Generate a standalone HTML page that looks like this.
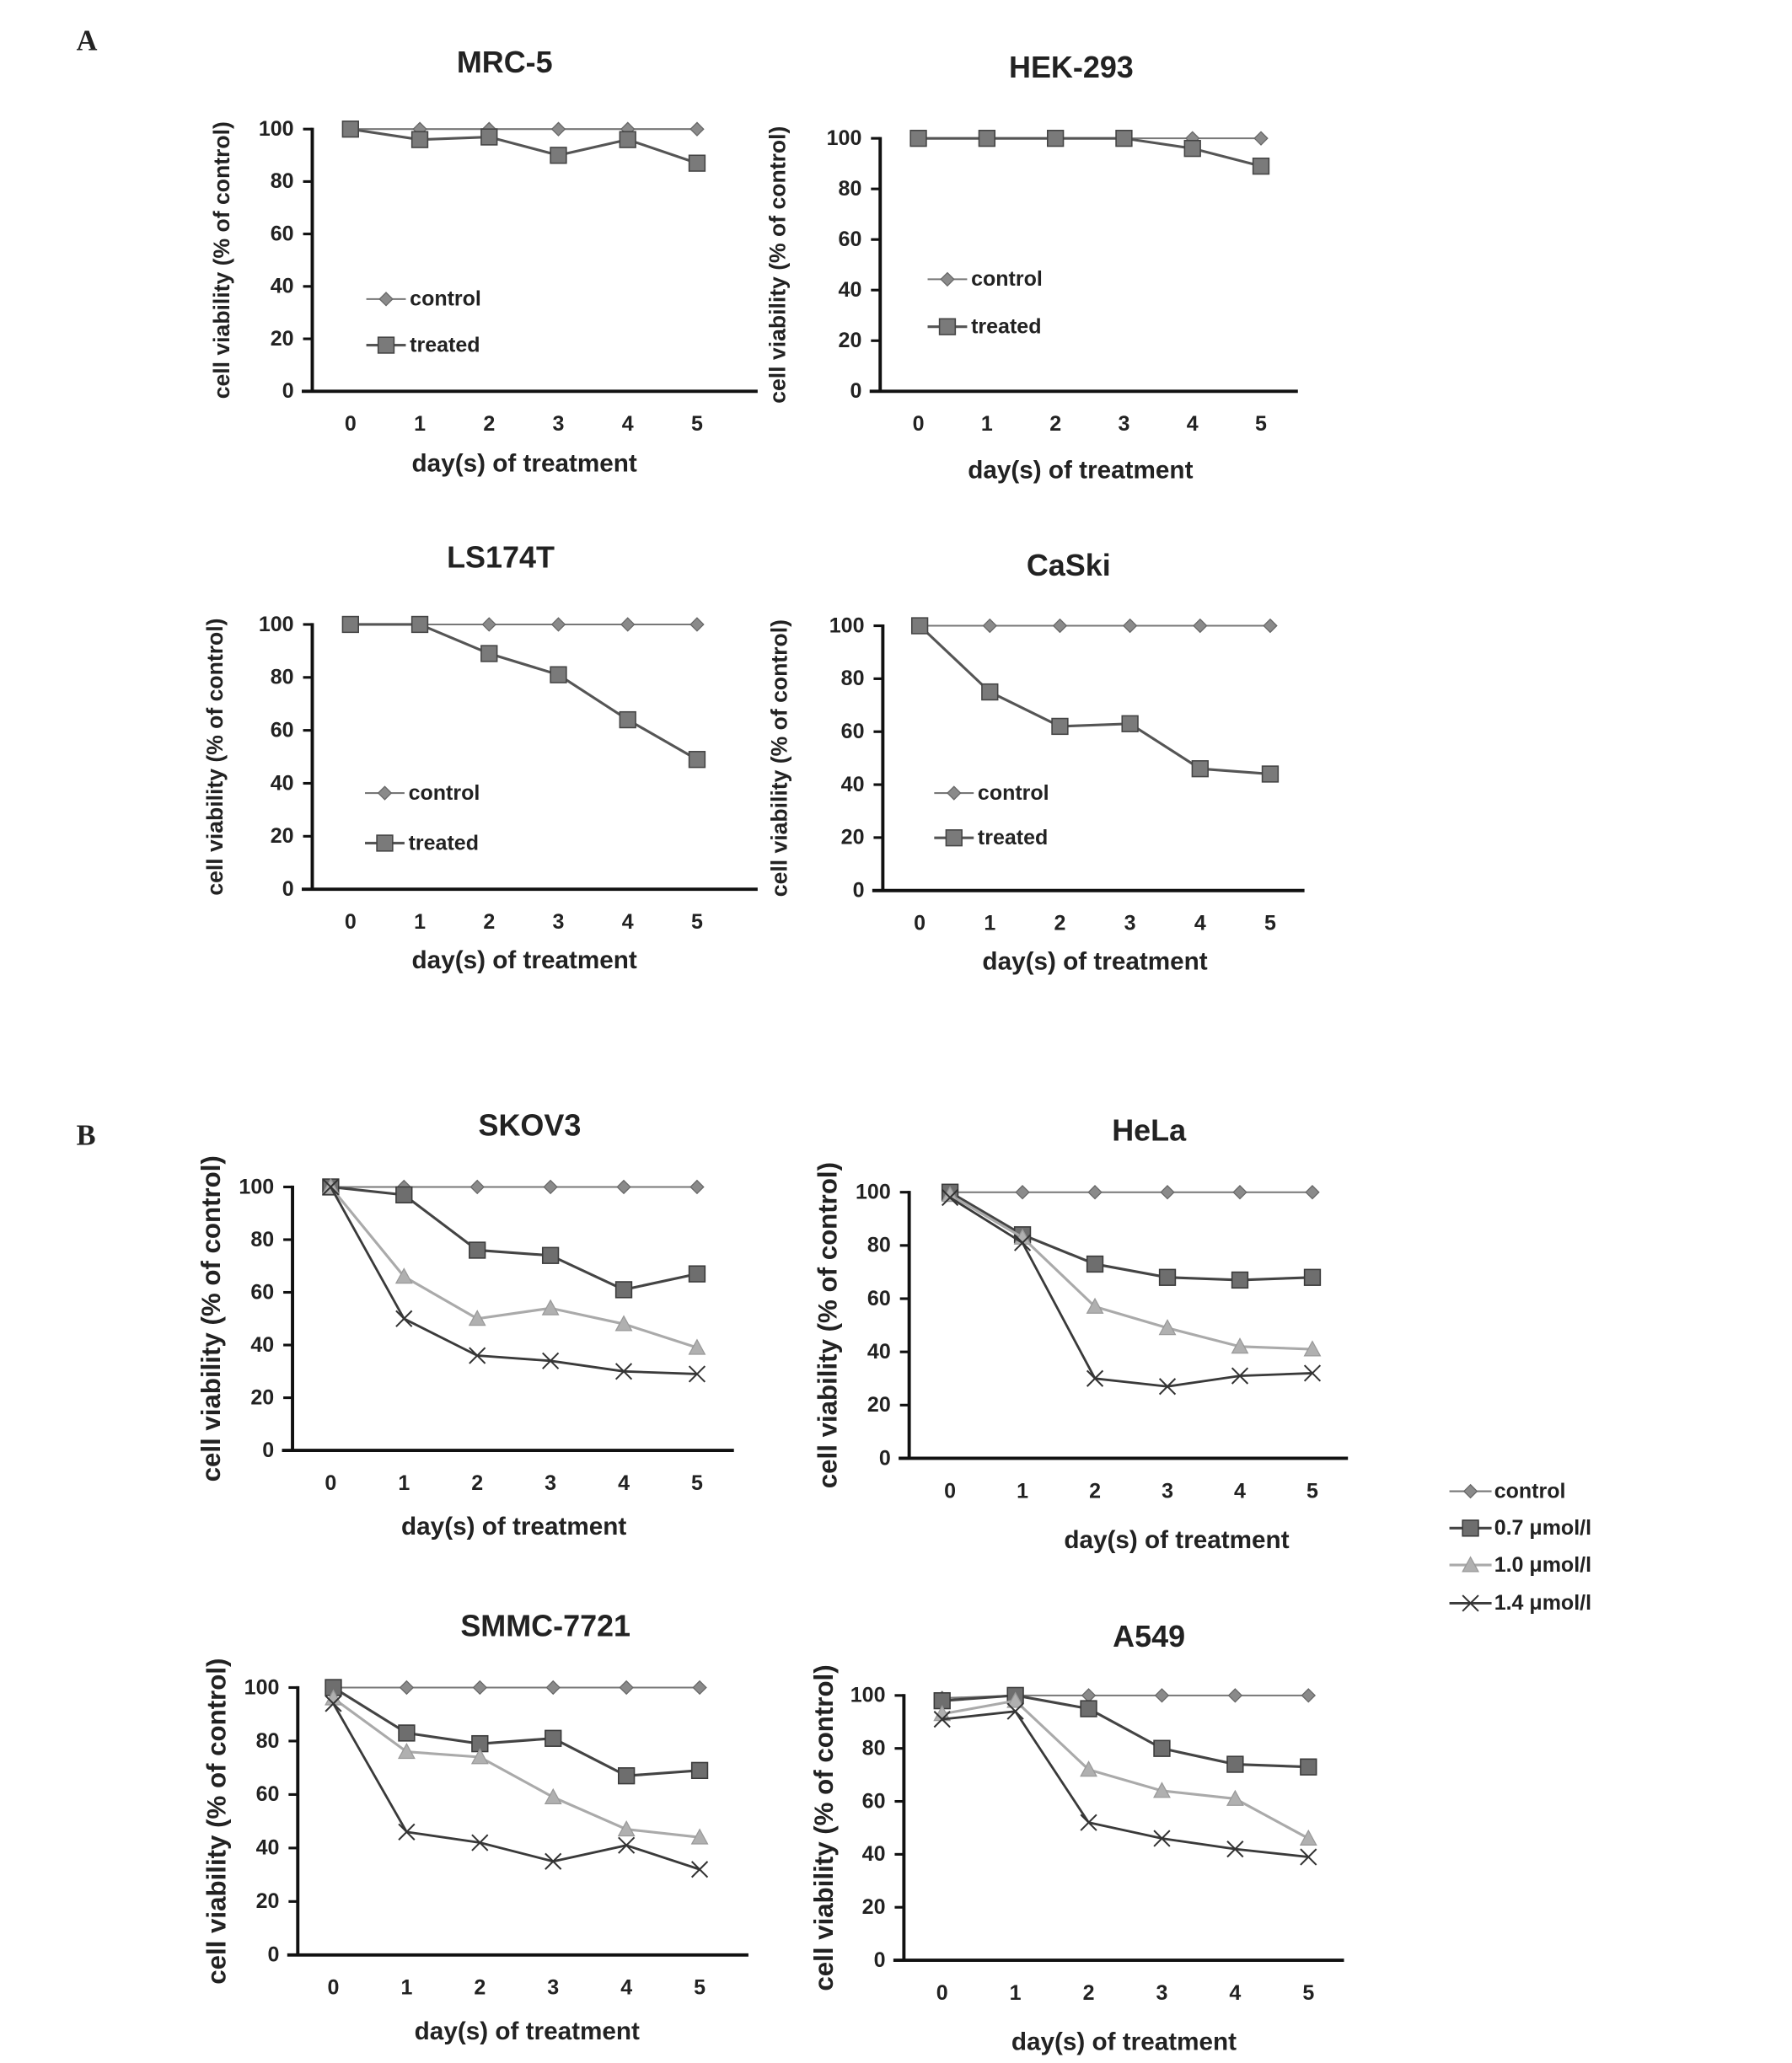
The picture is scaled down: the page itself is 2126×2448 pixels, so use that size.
<!DOCTYPE html>
<html><head><meta charset="utf-8"><style>
html,body{margin:0;padding:0;background:#fff}
svg{display:block}
text{font-family:"Liberation Sans","DejaVu Sans",sans-serif;fill:#222}
</style></head><body>
<svg id="fig" width="2126" height="2448" viewBox="0 0 1360 1566" preserveAspectRatio="none" xmlns="http://www.w3.org/2000/svg">
<text x="58" y="38" style="font-family:'Liberation Serif',serif" font-size="22" font-weight="bold">A</text>
<text x="58" y="869" style="font-family:'Liberation Serif',serif" font-size="22" font-weight="bold">B</text>
</svg>
<script>
const days=[0,1,2,3,4,5];
const yTicks=[0,20,40,60,80,100];
const mrcControl=[100,100,100,100,100,100];
const mrcTreated=[100,96,97,90,96,87];
const hekControl=[100,100,100,100,100,100];
const hekTreated=[100,100,100,100,96,89];
const lsControl=[100,100,100,100,100,100];
const lsTreated=[100,100,89,81,64,49];
const caskiControl=[100,100,100,100,100,100];
const caskiTreated=[100,75,62,63,46,44];
const skovControl=[100,100,100,100,100,100];
const skov07=[100,97,76,74,61,67];
const skov10=[100,66,50,54,48,39];
const skov14=[100,50,36,34,30,29];
const helaControl=[100,100,100,100,100,100];
const hela07=[100,84,73,68,67,68];
const hela10=[99,83,57,49,42,41];
const hela14=[98,81,30,27,31,32];
const smmcControl=[100,100,100,100,100,100];
const smmc07=[100,83,79,81,67,69];
const smmc10=[96,76,74,59,47,44];
const smmc14=[94,46,42,35,41,32];
const a549Control=[99,100,100,100,100,100];
const a54907=[98,100,95,80,74,73];
const a54910=[93,98,72,64,61,46];
const a54914=[91,94,52,46,42,39];

const NS="http://www.w3.org/2000/svg";
const svg=document.getElementById('fig');
function mk(tag,attrs,parent){const e=document.createElementNS(NS,tag);for(const k in attrs)e.setAttribute(k,attrs[k]);(parent||svg).appendChild(e);return e;}
function txt(x,y,s,size,parent,extra){const t=mk('text',Object.assign({x:x,y:y,'font-size':size,'font-weight':'bold','text-anchor':'middle'},extra||{}),parent);t.textContent=s;return t;}

const styles={
 control:{line:'#777',w:1.3,marker:'diamond',fill:'#8a8a8a',stroke:'#666'},
 treated:{line:'#555',w:2,marker:'square',fill:'#7a7a7a',stroke:'#444'},
 c07:{line:'#444',w:2,marker:'square',fill:'#6e6e6e',stroke:'#3a3a3a'},
 c10:{line:'#aaa',w:2,marker:'triangle',fill:'#b0b0b0',stroke:'#999'},
 c14:{line:'#3a3a3a',w:1.8,marker:'x',fill:'none',stroke:'#333'}
};
function marker(g,type,x,y,st){
 if(type==='diamond')return mk('polygon',{points:`${x},${y-5} ${x+5},${y} ${x},${y+5} ${x-5},${y}`,fill:st.fill,stroke:st.stroke,'stroke-width':0.8},g);
 if(type==='square')return mk('rect',{x:x-6,y:y-6,width:12,height:12,fill:st.fill,stroke:st.stroke,'stroke-width':1},g);
 if(type==='triangle')return mk('polygon',{points:`${x},${y-6} ${x+6},${y+5} ${x-6},${y+5}`,fill:st.fill,stroke:st.stroke,'stroke-width':0.8},g);
 const p=mk('path',{d:`M${x-6},${y-6}L${x+6},${y+6}M${x+6},${y-6}L${x-6},${y+6}`,stroke:st.stroke,'stroke-width':1.3,fill:'none'},g);return p;
}
function panel(c){
 const g=mk('g',{});
 
 
 const xs=d=>c.x0+(c.x5-c.x0)*d/5;
 const ys=v=>c.y0-(c.y0-c.y100)*v/100;
 const t=txt(c.tx,c.ty,c.title,23,g);
 
 
 mk('line',{x1:c.ax,y1:c.y100-1,x2:c.ax,y2:c.y0+1,stroke:'#111','stroke-width':2.5},g);
 mk('line',{x1:c.ax-8,y1:c.y0,x2:c.right,y2:c.y0,stroke:'#111','stroke-width':2.5},g);
 yTicks.forEach(v=>{
  mk('line',{x1:c.ax-7,y1:ys(v),x2:c.ax,y2:ys(v),stroke:'#111','stroke-width':2},g);
  const tl=txt(c.ax-14,ys(v)+5,String(v),16,g,{'text-anchor':'end'});
  
  
 });
 days.forEach(d=>{
  const tl=txt(xs(d),c.y0+30,String(d),16,g);
  
  
 });
 const xl=txt(c.xlx,c.xly,'day(s) of treatment',19,g);
 
 
 const yl=txt(0,0,'cell viability (% of control)',c.ylSize||17,g,{transform:`translate(${c.ylx},${(c.y0+c.y100)/2}) rotate(-90)`});
 
 
 c.series.forEach(s=>{
  const st=styles[s.style];
  const pl=mk('polyline',{points:s.data.map((v,i)=>xs(days[i])+','+ys(v)).join(' '),fill:'none',stroke:st.line,'stroke-width':st.w},g);
  
  
  s.data.forEach((v,i)=>{
   const m=marker(g,st.marker,xs(days[i]),ys(v),st);
   
   
  });
 });
 if(c.legend){
  c.legend.items.forEach((it,i)=>{
   const st=styles[it.style];const y=c.legend.ys[i];
   const lg=mk('g',{},g);
   
   
   mk('line',{x1:c.legend.x1,y1:y,x2:c.legend.x2,y2:y,stroke:st.line,'stroke-width':st.w},lg);
   marker(lg,st.marker,(c.legend.x1+c.legend.x2)/2,y,st);
   txt(c.legend.x2+3,y+5,it.label,16,lg,{'text-anchor':'start'});
  });
 }
}
const twoSer=(a,b)=>[{style:'control',data:a},{style:'treated',data:b}];
const fourSer=(a,b,c,d)=>[{style:'control',data:a},{style:'c07',data:b},{style:'c10',data:c},{style:'c14',data:d}];
const legA=[{style:'control',label:'control'},{style:'treated',label:'treated'}];
panel({name:'mrc-5',title:'MRC-5',tx:383,ty:55,ax:237,y100:98,y0:297,right:575,x0:266,x5:529,xlx:398,xly:358,ylx:174,series:twoSer(mrcControl,mrcTreated),legend:{x1:278,x2:308,ys:[227,262],items:legA}});
panel({name:'hek-293',title:'HEK-293',tx:813,ty:59,ax:668,y100:105,y0:297,right:985,x0:697,x5:957,xlx:820,xly:363,ylx:596,series:twoSer(hekControl,hekTreated),legend:{x1:704,x2:734,ys:[212,248],items:legA}});
panel({name:'ls174t',title:'LS174T',tx:380,ty:431,ax:237,y100:474,y0:675,right:575,x0:266,x5:529,xlx:398,xly:735,ylx:169,series:twoSer(lsControl,lsTreated),legend:{x1:277,x2:307,ys:[602,640],items:legA}});
panel({name:'caski',title:'CaSki',tx:811,ty:437,ax:670,y100:475,y0:676,right:990,x0:698,x5:964,xlx:831,xly:736,ylx:597,series:twoSer(caskiControl,caskiTreated),legend:{x1:709,x2:739,ys:[602,636],items:legA}});
panel({name:'skov3',title:'SKOV3',tx:402,ty:862,ax:222,y100:901,y0:1101,right:557,x0:251,x5:529,xlx:390,xly:1165,ylx:167,ylSize:20,series:fourSer(skovControl,skov07,skov10,skov14)});
panel({name:'hela',title:'HeLa',tx:872,ty:866,ax:690,y100:905,y0:1107,right:1023,x0:721,x5:996,xlx:893,xly:1175,ylx:635,ylSize:20,series:fourSer(helaControl,hela07,hela10,hela14)});
panel({name:'smmc-7721',title:'SMMC-7721',tx:414,ty:1242,ax:226,y100:1281,y0:1484,right:568,x0:253,x5:531,xlx:400,xly:1548,ylx:171,ylSize:20,series:fourSer(smmcControl,smmc07,smmc10,smmc14)});
panel({name:'a549',title:'A549',tx:872,ty:1250,ax:686,y100:1287,y0:1488,right:1020,x0:715,x5:993,xlx:853,xly:1556,ylx:632,ylSize:20,series:fourSer(a549Control,a54907,a54910,a54914)});
const legB=[{style:'control',label:'control'},{style:'c07',label:'0.7 μmol/l'},{style:'c10',label:'1.0 μmol/l'},{style:'c14',label:'1.4 μmol/l'}];
const lgYs=[1132,1160,1188,1217];
legB.forEach((it,i)=>{
 const st=styles[it.style];const y=lgYs[i];
 const lg=mk('g',{});
 
 
 mk('line',{x1:1100,y1:y,x2:1132,y2:y,stroke:st.line,'stroke-width':st.w},lg);
 marker(lg,st.marker,1116,y,st);
 txt(1134,y+5,it.label,16,lg,{'text-anchor':'start'});
});
</script>
</body></html>
